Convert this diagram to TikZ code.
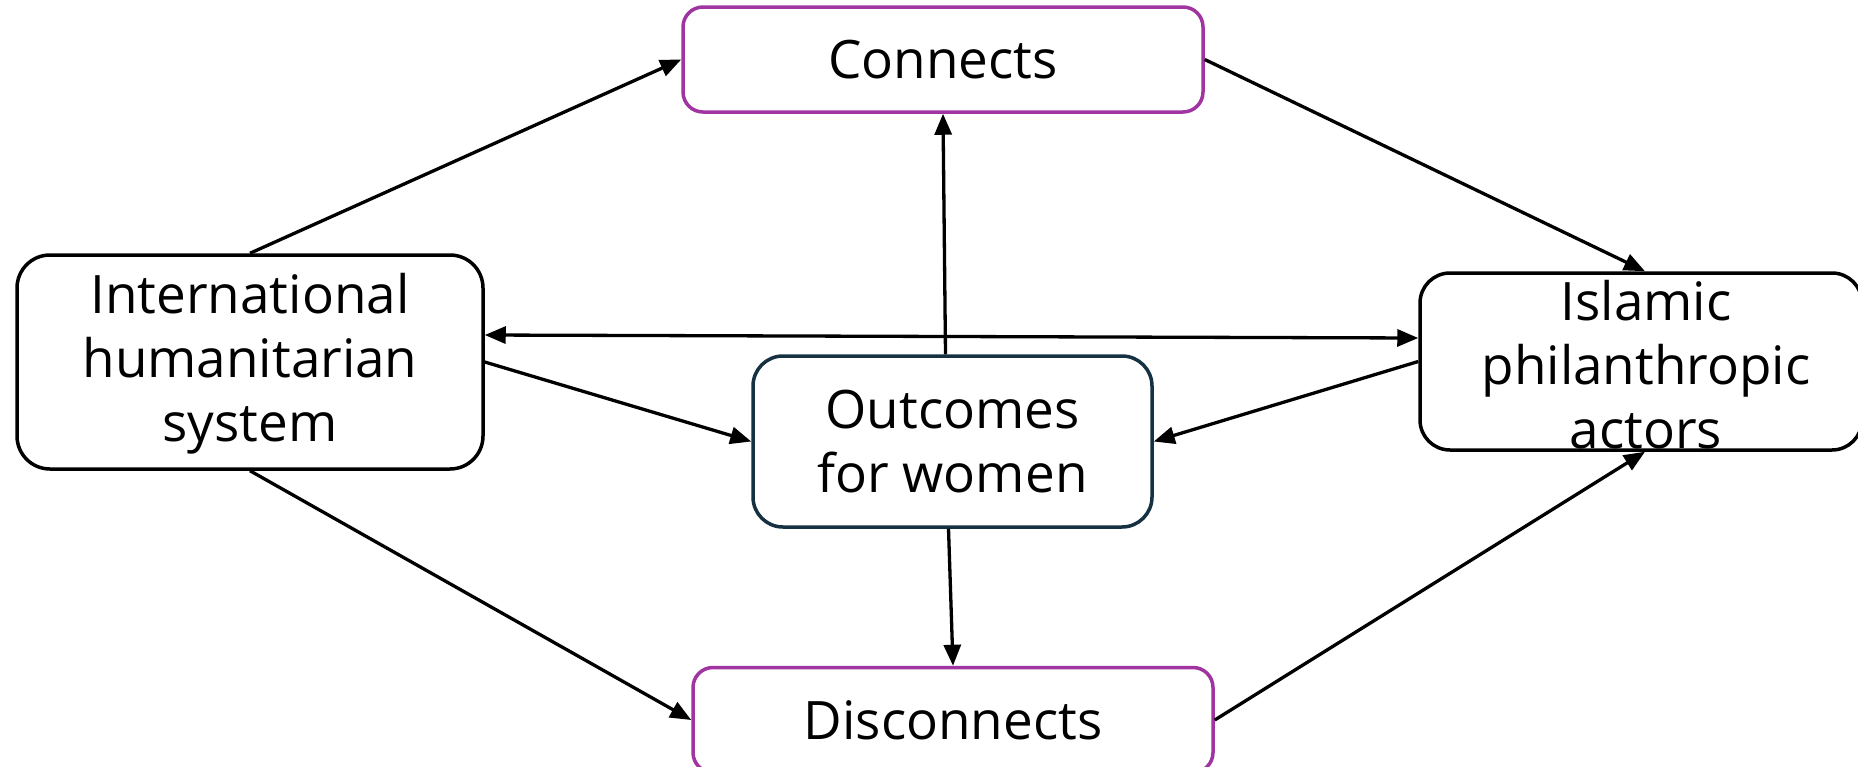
\documentclass[tikz,border=0pt]{standalone}
\usepackage{fontspec}
\setmainfont{Open Sans}
\usetikzlibrary{arrows.meta}
\definecolor{boxpurple}{RGB}{160,52,160}
\definecolor{boxteal}{RGB}{22,50,66}
\begin{document}
\begin{tikzpicture}[x=1pt,y=-1pt,
  box/.style={draw, fill=white, line width=3.5pt, rounded corners=30pt, inner sep=0pt},
  lbl/.style={font=\fontsize{53}{64}\selectfont, align=center, inner sep=0pt},
  conn/.style={line width=3.3pt, -{Triangle[length=21pt,width=17pt]}},
  dconn/.style={line width=3.3pt, {Triangle[length=21pt,width=17pt]}-{Triangle[length=21pt,width=17pt]}},
]
\fill[white] (0,0) rectangle (1858,766);
\useasboundingbox (0,0) rectangle (1858,766);
% boxes
\node[box, draw=boxpurple, rounded corners=20pt, minimum width=520pt, minimum height=105pt] (connects) at (943,59.5) {};
\node[box, draw=boxpurple, rounded corners=20pt, minimum width=520pt, minimum height=105pt] (disconnects) at (953,720) {};
\node[box, draw=black, rounded corners=33pt, minimum width=466pt, minimum height=214pt] (intl) at (250,362) {};
\node[box, draw=black, minimum width=442pt, minimum height=177pt] (islamic) at (1641,361.5) {};
\node[box, draw=boxteal, minimum width=399pt, minimum height=171pt] (outcomes) at (952.5,441.5) {};
% texts
\node[lbl] (connectstext) at (connects.center) {Connects};
\node[lbl] (disconnectstext) at (disconnects.center) {Disconnects};
\node[lbl] (intltext) at ([yshift=-2pt]intl.center) {International\\humanitarian\\system};
\node[lbl] (islamictext) at ([xshift=5pt,yshift=-3pt]islamic.center) {Islamic\\philanthropic\\actors};
\node[lbl] (outcomestext) at (outcomes.center) {Outcomes\\for women};
% connectors
\draw[conn] (intl.north) -- (connects.west);
\draw[conn] (connects.east) -- ([xshift=4pt]islamic.north);
\draw[conn] ([xshift=-7pt]outcomes.north) -- (connects.south);
\draw[dconn] ([yshift=27pt]intl.east) -- ([yshift=23.5pt]islamic.west);
\draw[conn] (intl.east) -- (outcomes.west);
\draw[conn] (islamic.west) -- (outcomes.east);
\draw[conn] ([xshift=-4pt]outcomes.south) -- (disconnects.north);
\draw[conn] (intl.south) -- (disconnects.west);
\draw[conn] (disconnects.east) -- ([xshift=4pt]islamic.south);
\end{tikzpicture}
\end{document}
